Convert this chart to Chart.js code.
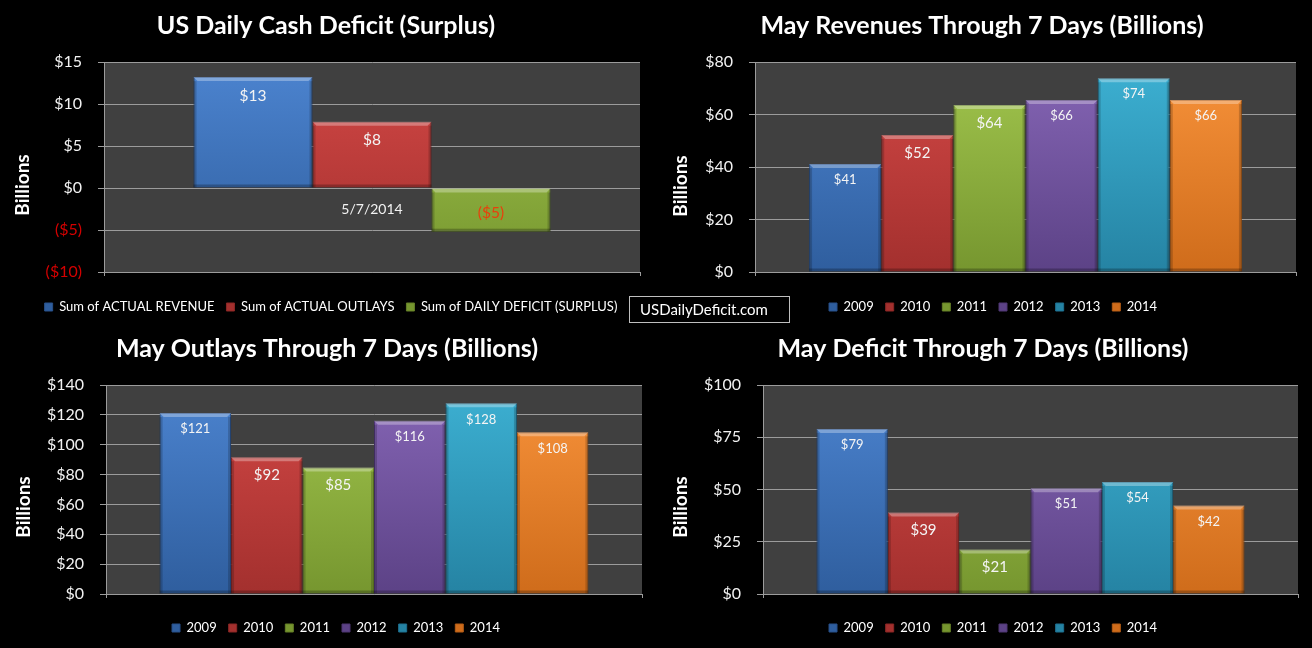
<!DOCTYPE html>
<html><head><meta charset="utf-8">
<script src="https://cdn.jsdelivr.net/npm/chart.js@4.4.1/dist/chart.umd.min.js"></script>
<style>
html,body{margin:0;padding:0;background:#000;width:1312px;height:648px;overflow:hidden;}
.cell{position:absolute;width:656px;height:324px;}
canvas{display:block;}
#site{position:absolute;left:629px;top:296px;width:149px;height:25px;padding-left:10px;border:1px solid #bfbfbf;color:#fff;font:15px Lato, sans-serif;line-height:25px;text-align:left;z-index:5;}
</style></head><body>
<div class="cell" style="left:0;top:0"><canvas id="c1" width="656" height="324"></canvas></div>
<div class="cell" style="left:656px;top:0"><canvas id="c2" width="656" height="324"></canvas></div>
<div class="cell" style="left:0;top:324px"><canvas id="c3" width="656" height="324"></canvas></div>
<div class="cell" style="left:656px;top:324px"><canvas id="c4" width="656" height="324"></canvas></div>
<div id="site">USDailyDeficit.com</div>
<script>
// ---- data ----
const cashCategories = ['5/7/2014'];
const cashSeriesNames = ['Sum of ACTUAL REVENUE', 'Sum of ACTUAL OUTLAYS', 'Sum of DAILY DEFICIT (SURPLUS)'];
const cashValues = [13.2, 7.9, -5.2];
const yearNames = ['2009', '2010', '2011', '2012', '2013', '2014'];
const revenueValues = [41.1, 52.2, 63.6, 65.5, 73.8, 65.5];
const outlayValues = [121.2, 91.6, 84.7, 116.1, 127.7, 108.3];
const deficitValues = [79.0, 39.0, 21.3, 50.6, 53.6, 42.3];
const cashTickRange = [-10, 15, 5];
const revenueTickRange = [0, 80, 20];
const outlayTickRange = [0, 140, 20];
const deficitTickRange = [0, 100, 25];

// ---- styles ----
const FONT = 'Lato, "Open Sans", sans-serif';
const GRID = '#9c9c9c';
const palette = [
  {top:'#4c84d0', bottom:'#2f5e9e', edge:'#28508a'},
  {top:'#d34846', bottom:'#a3302e', edge:'#8a2725'},
  {top:'#a2c64e', bottom:'#76962f', edge:'#647f27'},
  {top:'#8666b6', bottom:'#5c4286', edge:'#4e3773'},
  {top:'#3db1d3', bottom:'#2583a3', edge:'#1e7090'},
  {top:'#f8933b', bottom:'#cf6c1b', edge:'#b45d16'}
];
const CANVAS_H = 324;
const LEGEND_H = 35;
const TITLE_LH = 30;

function fmt(v){ return v < 0 ? '($' + Math.round(-v) + ')' : '$' + Math.round(v); }

function grad(p){
  return (c) => {
    const ca = c.chart.chartArea;
    if (!ca) return p.top;
    const g = c.chart.ctx.createLinearGradient(0, ca.top, 0, ca.bottom);
    g.addColorStop(0, p.top); g.addColorStop(1, p.bottom);
    return g;
  };
}

const plotBg = {
  id:'plotBg',
  beforeDraw(chart){
    const {ctx, chartArea:a} = chart;
    ctx.save(); ctx.fillStyle = '#404040';
    ctx.fillRect(a.left, a.top, a.right - a.left, a.bottom - a.top);
    ctx.restore();
  }
};

const legendShift = {
  id:'legendShift',
  afterLayout(chart, args, opts){
    if (chart.legend) { chart.legend.left += opts.dx; chart.legend.right += opts.dx; }
  }
};

const barDecor = {
  id:'barDecor',
  afterDatasetsDraw(chart, args, opts){
    const ctx = chart.ctx;
    chart.data.datasets.forEach((ds, di) => {
      const meta = chart.getDatasetMeta(di);
      meta.data.forEach((el, i) => {
        const {x, y, base, width} = el.getProps(['x','y','base','width'], true);
        const l = x - width/2, r = x + width/2;
        const t = Math.min(y, base), b = Math.max(y, base);
        ctx.save();
        ctx.fillStyle = 'rgba(255,255,255,0.30)';
        ctx.beginPath(); ctx.moveTo(l, t); ctx.lineTo(r, t); ctx.lineTo(r-4, t+4); ctx.lineTo(l+4, t+4); ctx.closePath(); ctx.fill();
        ctx.fillStyle = 'rgba(0,0,0,0.18)';
        ctx.fillRect(l, t+4, 3, b - t - 4);
        ctx.fillRect(r-3, t+4, 3, b - t - 4);
        ctx.fillStyle = 'rgba(0,0,0,0.25)';
        ctx.fillRect(l, b-3, r-l, 3);
        const v = ds.data[i];
        const size = opts.sizes[di];
        ctx.font = size + 'px ' + FONT;
        ctx.fillStyle = v < 0 ? opts.negColor : '#f4f4f4';
        ctx.textAlign = 'center'; ctx.textBaseline = 'middle';
        ctx.fillText(fmt(v), x, v >= 0 ? y + size + 3 : y - size - 3);
        ctx.restore();
      });
    });
  }
};

const yTitle = {
  id:'yTitle',
  afterDraw(chart, args, opts){
    const ctx = chart.ctx;
    ctx.save();
    ctx.translate(opts.x, opts.y);
    ctx.rotate(-Math.PI/2);
    ctx.font = 'bold 19px ' + FONT;
    ctx.fillStyle = '#ffffff';
    ctx.textAlign = 'center'; ctx.textBaseline = 'middle';
    ctx.fillText(opts.text, 0, 0);
    ctx.restore();
  }
};

function makeChart(id, cfg){
  const datasets = cfg.names.map((name, i) => ({
    label: name,
    data: [cfg.values[i]],
    backgroundColor: grad(palette[i]),
    borderColor: palette[i].edge,
    borderWidth: 1,
    barPercentage: 1,
    categoryPercentage: cfg.catPct
  }));
  const xHeight = CANVAS_H - cfg.padBottom - LEGEND_H - cfg.plotBottom;
  const scales = {
    x: {
      type:'category', offset:true,
      grid:{display:true, drawOnChartArea:false, drawTicks:true, tickLength:4, color:GRID, offset:true},
      border:{display:true, color:GRID},
      ticks:{display:false},
      afterFit: s => { s.height = xHeight; }
    },
    y: {
      min: cfg.range[0], max: cfg.range[1],
      ticks:{stepSize: cfg.range[2], padding:16,
        color: c => (c.tick && c.tick.value < 0) ? '#d40000' : '#f2f2f2',
        font:{family:FONT, size:16}, callback: v => fmt(v)},
      grid:{color:GRID, tickLength:6, drawTicks:true},
      border:{display:true, color:GRID},
      afterFit: s => { s.width = cfg.plotLeft - cfg.padLeft; }
    }
  };
  if (cfg.showCategory) {
    scales.x2 = {
      type:'category', axis:'x', position:{y:0}, offset:true,
      grid:{display:false}, border:{display:false},
      ticks:{color:'#f2f2f2', font:{family:FONT, size:14}, padding:5}
    };
  }
  return new Chart(document.getElementById(id), {
    type:'bar',
    data:{labels: cfg.labels, datasets},
    options:{
      responsive:false, animation:false,
      layout:{padding:{left:cfg.padLeft, right:cfg.padRight, top:0, bottom:cfg.padBottom}},
      scales,
      plugins:{
        title:{display:true, text:cfg.title, color:'#ffffff',
          font:{family:FONT, size:25, weight:'bold', lineHeight:TITLE_LH/25},
          padding:{top:cfg.titleTop, bottom:cfg.plotTop - cfg.titleTop - TITLE_LH}},
        legend:{position:'bottom', labels:{color:'#ffffff', boxWidth:8, boxHeight:8, padding:12, font:{family:FONT, size:13}}},
        tooltip:{enabled:false},
        legendShift:{dx: cfg.legendDx},
        barDecor:{sizes: cfg.labelSizes, negColor:'#e8400c'},
        yTitle:{text:'Billions', x:cfg.yTitleX, y:cfg.yTitleY}
      }
    },
    plugins:[plotBg, legendShift, barDecor, yTitle]
  });
}

const yearLabelSizes = [13, 15, 15, 13, 13, 13];

makeChart('c1', {names: cashSeriesNames, values: cashValues, labels: cashCategories, showCategory:true,
  range: cashTickRange, catPct: 0.666, plotLeft: 104, plotTop: 62, plotBottom: 272, padLeft: 12, padRight: 16, padBottom: 0.5,
  titleTop: 10.5, legendDx: 5,
  title: 'US Daily Cash Deficit (Surplus)', labelSizes: [15.5, 15.5, 15.5], yTitleX: 23, yTitleY: 185});
makeChart('c2', {names: yearNames, values: revenueValues, labels: [''],
  range: revenueTickRange, catPct: 0.8, plotLeft: 99, plotTop: 62, plotBottom: 272, padLeft: 12, padRight: 16, padBottom: 0.5,
  titleTop: 10.5, legendDx: 11,
  title: 'May Revenues Through 7 Days (Billions)', labelSizes: yearLabelSizes, yTitleX: 25, yTitleY: 186});
makeChart('c3', {names: yearNames, values: outlayValues, labels: [''],
  range: outlayTickRange, catPct: 0.8, plotLeft: 106, plotTop: 61, plotBottom: 270, padLeft: 12, padRight: 14, padBottom: 3.5,
  titleTop: 9.5, legendDx: 9,
  title: 'May Outlays Through 7 Days (Billions)', labelSizes: yearLabelSizes, yTitleX: 24, yTitleY: 183});
makeChart('c4', {names: yearNames, values: deficitValues, labels: [''],
  range: deficitTickRange, catPct: 0.8, plotLeft: 107, plotTop: 61, plotBottom: 270, padLeft: 12, padRight: 14, padBottom: 3.5,
  titleTop: 9.5, legendDx: 10,
  title: 'May Deficit Through 7 Days (Billions)', labelSizes: yearLabelSizes, yTitleX: 25, yTitleY: 183});
</script>
</body></html>
